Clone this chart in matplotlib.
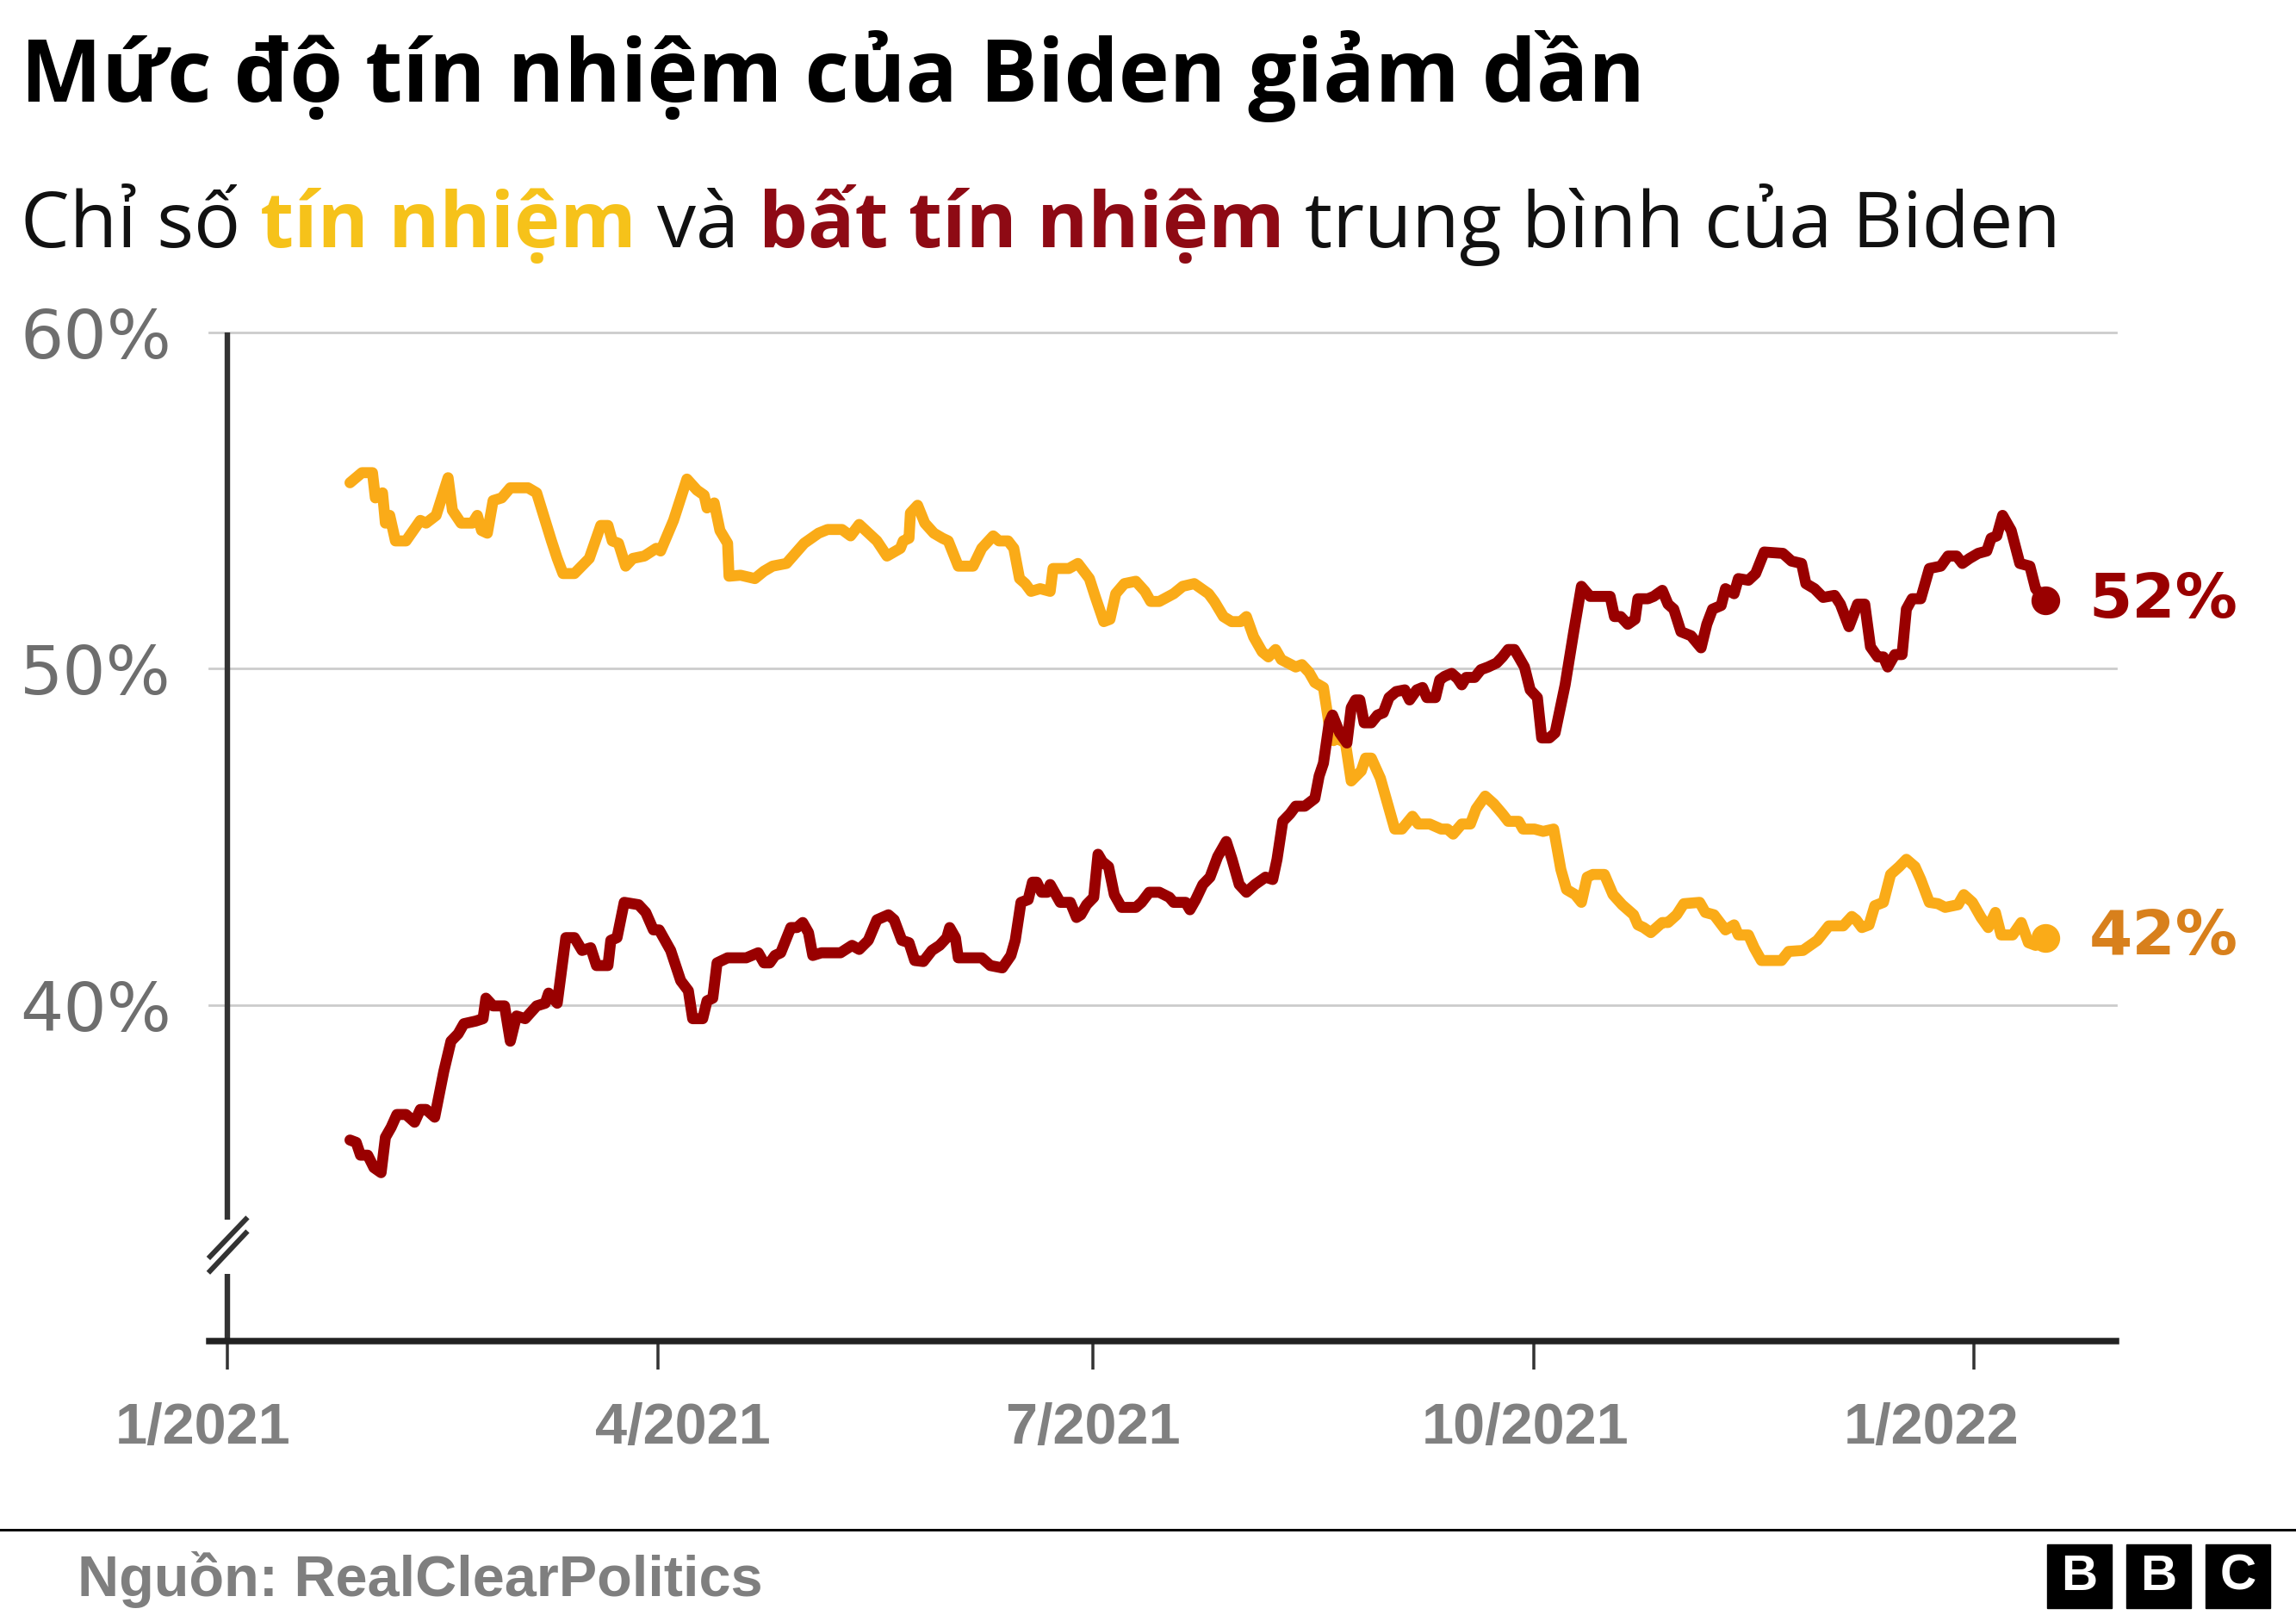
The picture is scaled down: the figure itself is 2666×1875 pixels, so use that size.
'''
Biden approval / disapproval averages (RealClearPolitics), BBC style chart
'''

import pandas as pd
import matplotlib
matplotlib.use('Agg')
import matplotlib.pyplot as plt
from matplotlib import font_manager
from matplotlib.lines import Line2D
from matplotlib.patches import Rectangle


START = pd.Timestamp('2021-01-01')

# days since 1 Jan 2021 and average approval (%)
APPROVE_DAYS = [
    25.7, 28.2, 30.4, 31.0, 32.5, 33.1, 34.0, 35.2, 37.4, 40.4, 41.6, 43.7, 46.2, 47.1, 48.9,
    51.3, 52.3, 53.2, 54.4, 55.6, 57.4, 59.2, 62.9, 64.7, 67.8, 69.0, 70.2, 72.6, 75.7, 78.1,
    79.6, 80.5, 81.8, 83.3, 84.8, 87.2, 89.7, 90.6, 93.3, 96.1, 98.2, 99.7, 100.3, 101.8, 103.0,
    104.6, 104.9, 107.3, 110.3, 112.2, 114.0, 116.9, 120.6, 123.6, 125.5, 128.5, 130.3, 132.1,
    135.8, 137.9, 140.7, 141.3, 142.5, 142.8, 144.3, 145.8, 147.7, 149.5, 150.7, 152.8, 155.9,
    157.7, 160.1, 161.3, 163.2, 164.4, 165.6, 166.8, 168.0, 169.9, 172.0, 172.6, 175.9, 177.8,
    180.2, 181.4, 183.2, 184.5, 185.7, 187.5, 189.9, 191.8, 193.0, 194.8, 197.8, 199.7, 202.1,
    205.1, 206.3, 208.2, 209.9, 211.8, 213.0, 214.5, 216.3, 217.6, 219.1, 220.3, 223.3, 224.6,
    226.1, 227.3, 229.1, 230.3, 231.2, 231.8, 233.7, 234.9, 237.0, 237.9, 239.1, 241.0, 242.2,
    244.0, 245.5, 247.7, 248.9, 251.3, 253.7, 255.0, 256.2, 258.0, 259.8, 261.0, 262.9, 264.7,
    266.5, 267.7, 269.9, 270.8, 273.2, 275.0, 277.2, 278.7, 279.9, 281.7, 283.0, 284.2, 285.4,
    287.8, 289.6, 291.5, 293.9, 294.8, 296.0, 297.5, 299.9, 301.1, 302.9, 304.4, 307.7, 308.9,
    310.7, 313.1, 314.9, 315.8, 317.9, 319.1, 320.6, 324.8, 326.3, 329.3, 332.3, 334.7, 337.7,
    339.5, 340.4, 341.6, 343.1, 344.3, 346.1, 347.6, 349.4, 350.9, 352.7, 353.9, 355.7, 357.5,
    359.0, 361.7, 362.9, 364.7, 366.5, 368.0, 369.5, 370.7, 373.1, 374.9, 376.4, 377.9, 380.0,
]
APPROVE_VALS = [
    55.53, 55.83, 55.83, 55.08, 55.23, 54.33, 54.56, 53.80, 53.80, 54.41, 54.33, 54.56, 55.68, 54.71, 54.33,
    54.33, 54.56, 54.11, 54.03, 55.00, 55.08, 55.38, 55.38, 55.23, 53.80, 53.28, 52.83, 52.83, 53.28, 54.26,
    54.26, 53.80, 53.73, 53.05, 53.28, 53.35, 53.58, 53.50, 54.41, 55.64, 55.31, 55.16, 54.78, 54.93, 54.11,
    53.73, 52.75, 52.78, 52.68, 52.90, 53.05, 53.13, 53.73, 54.03, 54.14, 54.14, 53.95, 54.29,
    53.80, 53.35, 53.58, 53.80, 53.88, 54.63, 54.86, 54.33, 54.03, 53.88, 53.80, 53.05, 53.05,
    53.58, 53.95, 53.80, 53.80, 53.58, 52.68, 52.53, 52.30, 52.38, 52.30, 52.98, 52.98, 53.13,
    52.68, 52.15, 51.40, 51.47, 52.23, 52.53, 52.60, 52.30, 52.00, 52.00, 52.23, 52.45, 52.53,
    52.23, 52.00, 51.55, 51.40, 51.40, 51.55, 50.95, 50.50, 50.35, 50.57, 50.27, 50.05, 50.12,
    49.89, 49.59, 49.44, 48.32, 47.86, 47.94, 47.79, 46.66, 46.96, 47.34, 47.34, 46.74, 46.14,
    45.23, 45.23, 45.61, 45.38, 45.38, 45.23, 45.23, 45.08, 45.38, 45.38, 45.83, 46.21, 45.98,
    45.68, 45.46, 45.46, 45.23, 45.23, 45.16, 45.23, 44.03, 43.43, 43.28, 43.05, 43.80, 43.88,
    43.88, 43.28, 42.98, 42.68, 42.38, 42.30, 42.15, 42.45, 42.45, 42.68, 43.01, 43.05, 42.75,
    42.68, 42.23, 42.38, 42.08, 42.08, 41.70, 41.32, 41.32, 41.59, 41.62, 41.92, 42.35, 42.35,
    42.63, 42.53, 42.30, 42.38, 42.95, 43.05, 43.88, 44.11, 44.33, 44.11, 43.73, 43.05, 43.01,
    42.90, 42.98, 43.28, 43.05, 42.60, 42.30, 42.75, 42.08, 42.08, 42.45, 41.85, 41.77, 42.00,
]

# days since 1 Jan 2021 and average disapproval (%)
DISAPPROVE_DAYS = [
    25.7, 27.0, 27.9, 29.4, 30.7, 32.2, 33.1, 34.3, 35.5, 37.4, 39.2, 40.4, 41.6, 43.4, 45.3,
    46.8, 48.3, 49.5, 52.0, 53.5, 54.1, 55.6, 58.0, 59.2, 60.5, 62.3, 64.7, 66.5, 67.2, 69.0,
    70.8, 72.6, 74.2, 76.0, 77.2, 79.6, 80.2, 81.5, 83.0, 86.0, 87.5, 89.1, 90.3, 92.7, 94.8,
    96.4, 97.3, 99.4, 100.3, 101.5, 102.4, 104.6, 106.7, 108.5, 111.0, 112.2, 113.4, 114.5,
    115.7, 117.8, 119.1, 120.3, 121.5, 122.4, 124.2, 128.2, 130.6, 132.1, 134.0, 135.8, 138.2,
    139.4, 141.0, 142.5, 143.7, 145.5, 147.3, 148.9, 150.4, 151.0, 152.2, 152.8, 157.7, 159.5,
    162.0, 163.8, 164.7, 165.9, 167.4, 168.3, 169.2, 170.2, 171.4, 172.0, 174.1, 176.2, 177.5,
    178.4, 179.6, 181.1, 182.0, 182.9, 184.2, 185.4, 186.9, 189.9, 191.1, 192.7, 194.8, 196.9,
    197.8, 200.3, 201.2, 202.4, 203.9, 205.4, 207.0, 208.8, 210.0, 211.5, 213.0, 214.8, 217.0,
    218.5, 219.4, 220.6, 222.1, 223.3, 225.2, 227.3, 228.2, 229.1, 230.3, 231.0, 232.5, 234.0,
    234.9, 235.8, 236.7, 237.6, 239.1, 240.4, 241.6, 242.8, 244.3, 246.1, 247.1, 248.6, 249.8,
    250.7, 252.5, 253.4, 254.4, 255.9, 257.1, 258.0, 258.9, 260.7, 262.0, 263.5, 265.3, 266.5,
    267.7, 269.0, 269.9, 271.1, 272.3, 273.8, 274.7, 276.3, 277.5, 279.6, 281.4, 283.0, 284.8,
    289.0, 289.9, 291.2, 292.7, 294.2, 294.8, 296.9, 298.1, 299.9, 301.1, 302.3, 303.8, 305.9,
    308.0, 309.2, 310.4, 312.2, 313.1, 314.9, 315.8, 317.9, 319.4, 321.2, 325.1, 326.9, 329.0,
    329.9, 331.7, 333.5, 335.9, 337.1, 338.9, 340.7, 342.2, 343.4, 344.9, 346.1, 347.0, 348.5,
    350.0, 350.9, 352.1, 353.9, 355.7, 358.1, 359.6, 361.4, 362.6, 364.1, 365.9, 367.7, 368.6,
    369.8, 371.0, 372.8, 374.6, 376.7, 377.9, 380.0,
]
DISAPPROVE_VALS = [
    35.98, 35.91, 35.53, 35.53, 35.16, 35.01, 36.06, 36.36, 36.74, 36.74, 36.51, 36.89, 36.89, 36.66, 38.02,
    38.92, 39.14, 39.44, 39.52, 39.59, 40.20, 39.97, 39.97, 38.92, 39.67, 39.59, 39.97, 40.05, 40.35, 40.05,
    42.00, 42.00, 41.62, 41.70, 41.17, 41.17, 41.92, 42.00, 43.05, 42.98, 42.75, 42.23, 42.23, 41.62, 40.72,
    40.42, 39.59, 39.59, 40.12, 40.20, 41.25, 41.40, 41.40, 41.40, 41.55, 41.25, 41.25, 41.47,
    41.55, 42.30, 42.30, 42.45, 42.15, 41.47, 41.55, 41.55, 41.77, 41.65, 41.92, 42.53, 42.68,
    42.53, 41.92, 41.85, 41.32, 41.29, 41.62, 41.77, 42.00, 42.30, 42.00, 41.40, 41.40, 41.17,
    41.10, 41.47, 41.92, 43.05, 43.13, 43.65, 43.65, 43.35, 43.35, 43.58, 43.05, 43.05, 42.60,
    42.68, 42.98, 43.20, 44.48, 44.26, 44.11, 43.28, 42.90, 42.90, 43.05, 43.35, 43.35, 43.20,
    43.05, 43.05, 42.83, 43.13, 43.58, 43.80, 44.41, 44.86, 44.33, 43.58, 43.35, 43.58, 43.80,
    43.73, 44.33, 45.46, 45.68, 45.91, 45.91, 46.14, 46.81, 47.19, 48.39, 48.62, 48.09, 47.79,
    48.84, 49.07, 49.07, 48.39, 48.39, 48.62, 48.69, 49.14, 49.32, 49.37, 49.07, 49.37, 49.44,
    49.14, 49.14, 49.67, 49.77, 49.86, 49.71, 49.52, 49.74, 49.74, 49.97, 50.05, 50.17, 50.35,
    50.57, 50.57, 50.35, 50.05, 49.37, 49.14, 47.94, 47.94, 48.09, 49.52, 51.10, 52.45, 52.15,
    52.15, 51.55, 51.55, 51.32, 51.47, 52.08, 52.08, 52.15, 52.33, 51.92, 51.77, 51.10, 50.98,
    50.62, 51.32, 51.77, 51.88, 52.38, 52.23, 52.68, 52.63, 52.83, 53.47, 53.43, 53.20, 53.13,
    52.53, 52.38, 52.12, 52.18, 51.92, 51.25, 51.92, 51.92, 50.65, 50.35, 50.35, 50.05, 50.42,
    50.42, 51.77, 52.08, 52.08, 52.98, 53.05, 53.35, 53.35, 53.13, 53.28, 53.43, 53.50, 53.88,
    53.95, 54.56, 54.11, 53.13, 53.05, 52.38, 52.03,
]

END_LABELS = ['42%', '52%']
TICK_DATES = ['2021-01-01', '2021-04-01', '2021-07-01', '2021-10-01', '2022-01-01']
TICK_LABELS = ['1/2021', '4/2021', '7/2021', '10/2021', '1/2022']
Y_TICKS = [40, 50, 60]
Y_LABELS = ['40%', '50%', '60%']

TITLE = 'Mức độ tín nhiệm của Biden giảm dần'
SUB_PARTS = ['Chỉ số', 'tín nhiệm', 'và', 'bất tín nhiệm', 'trung bình của Biden']
SOURCE = 'Nguồn: RealClearPolitics'

C_APPROVE = '#FAAB18'
C_DISAPPROVE = '#990000'
SUB_COLORS = ['#111111', '#F6C21A', '#111111', '#8E0A14', '#111111']
SUB_WEIGHTS = ['normal', 'bold', 'normal', 'bold', 'normal']
LABEL_COLORS = ['#D8801C', '#990000']

W, H = 2666, 1875
PT = 0.72  # points per pixel at dpi 100


def has_bold(family):
    for f in font_manager.fontManager.ttflist:
        if f.name != family:
            continue
        w = f.weight
        if isinstance(w, str):
            w = font_manager.weight_dict.get(w, 400)
        if w >= 600:
            return True
    return False


HEAD_FONT = next((f for f in ['Open Sans', 'Noto Sans', 'Roboto', 'Lato', 'Inter'] if has_bold(f)),
                 'DejaVu Sans')
HEAD_FAMILY = [HEAD_FONT, 'DejaVu Sans']


def to_dates(days):
    return START + pd.to_timedelta(pd.Series(days), unit='D')


def layout_parts(fig, renderer, x_px, y_px, size):
    kw = dict(fontsize=size, family=HEAD_FAMILY, va='baseline', ha='left')
    pa = fig.text(0, 0, 'aa', **kw)
    pb = fig.text(0, 0, 'a a', **kw)
    space = pb.get_window_extent(renderer).width - pa.get_window_extent(renderer).width
    pa.remove()
    pb.remove()
    texts = []
    x = x_px
    for part, col, wt in zip(SUB_PARTS, SUB_COLORS, SUB_WEIGHTS):
        t = fig.text(x / W, 1 - y_px / H, part, color=col, fontweight=wt, **kw)
        texts.append(t)
        x += t.get_window_extent(renderer).width + space
    return texts, x - space - x_px


def main():
    fig = plt.figure(figsize=(W / 100, H / 100), dpi=100)
    fig.patch.set_facecolor('white')
    ax = fig.add_axes([243 / W, 1 - 1557 / H, (2457 - 243) / W, (1557 - 386) / H])

    x_app = to_dates(APPROVE_DAYS)
    x_dis = to_dates(DISAPPROVE_DAYS)

    ax.set_xlim(START - pd.Timedelta(days=3.7), START + pd.Timedelta(days=394.7))
    ax.set_ylim(30, 60)

    # gridlines
    for v in Y_TICKS:
        ax.axhline(v, color='#cccccc', lw=2.0, zorder=1, clip_on=False)

    # series
    ax.plot(x_app, APPROVE_VALS, color=C_APPROVE, lw=9.2, zorder=3,
            solid_joinstyle='round', solid_capstyle='round')
    ax.plot(x_dis, DISAPPROVE_VALS, color=C_DISAPPROVE, lw=9.2, zorder=4,
            solid_joinstyle='round', solid_capstyle='round')

    # end markers + labels
    ends = [(x_app.iloc[-1], APPROVE_VALS[-1], C_APPROVE),
            (x_dis.iloc[-1], DISAPPROVE_VALS[-1], C_DISAPPROVE)]
    for (xe, ye, c), lab, lc in zip(ends, END_LABELS, LABEL_COLORS):
        ax.plot([xe], [ye], 'o', color=c, markersize=23, zorder=5)
        ax.annotate(lab, xy=(xe, ye), xytext=(50 * PT, 0), textcoords='offset points',
                    ha='left', va='center', fontsize=52, fontweight='bold',
                    color=lc, family='DejaVu Sans', annotation_clip=False)

    # spines: custom broken y axis, thick x axis
    for s in ['left', 'right', 'top']:
        ax.spines[s].set_visible(False)
    ax.spines['bottom'].set_linewidth(7.5 * PT)
    ax.spines['bottom'].set_color('#222222')
    ax.spines['bottom'].set_zorder(6)

    ax.plot([START, START], [60, 33.61], color='#333333', lw=4.6, clip_on=False,
            solid_capstyle='butt', zorder=6)
    ax.plot([START, START], [32.0, 30], color='#333333', lw=4.6, clip_on=False,
            solid_capstyle='butt', zorder=6)
    for y0, y1 in [(32.46, 33.68), (32.03, 33.27)]:
        ax.plot([START - pd.Timedelta(days=3.9), START + pd.Timedelta(days=4.3)],
                [y0, y1], color='#333333', lw=4.3, clip_on=False,
                solid_capstyle='butt', zorder=6)

    # y tick labels
    ax.set_yticks(Y_TICKS)
    ax.set_yticklabels(Y_LABELS)
    ax.tick_params(axis='y', length=0, pad=44 * PT, labelsize=57, labelcolor='#6e6e6e')
    for t in ax.get_yticklabels():
        t.set_family('DejaVu Sans')

    # x ticks and labels
    tick_x = pd.to_datetime(TICK_DATES)
    ax.set_xticks(tick_x)
    ax.set_xticklabels([''] * len(TICK_LABELS))
    ax.tick_params(axis='x', direction='out', length=33 * PT, width=3.5 * PT,
                   color='#333333')
    label_shift = [-28, 29, 0, -10, -49]
    for xt, lab, dx in zip(tick_x, TICK_LABELS, label_shift):
        ax.annotate(lab, xy=(xt, 0), xycoords=('data', 'axes fraction'),
                    xytext=(dx * PT, -102 * PT), textcoords='offset points',
                    ha='center', va='center', fontsize=48, fontweight='bold',
                    color='#808080', family='Liberation Sans', annotation_clip=False)

    renderer = fig.canvas.get_renderer()

    # title, sized to the reference width
    title = fig.text(24 / W, 1 - 118 / H, TITLE, fontsize=76, fontweight='bold',
                     family=HEAD_FAMILY, color='#000000', va='baseline', ha='left')
    tw = title.get_window_extent(renderer).width
    title.set_fontsize(76 * 1884 / tw)

    # subtitle in coloured pieces, sized to the reference width
    texts, sw = layout_parts(fig, renderer, 24, 287, 68)
    for t in texts:
        t.remove()
    layout_parts(fig, renderer, 24, 287, 68 * 2373 / sw)

    # footer
    fig.add_artist(Line2D([0, 1], [1 - 1776 / H, 1 - 1776 / H], transform=fig.transFigure,
                          color='#000000', lw=3 * PT))
    fig.text(90 / W, 1 - 1853 / H, SOURCE, fontsize=48, fontweight='bold',
             family='Liberation Sans', color='#7f7f7f', va='baseline', ha='left')

    for i, letter in enumerate('BBC'):
        x0 = 2377 + i * 92
        fig.add_artist(Rectangle((x0 / W, 1 - 1867 / H), 75 / W, 74 / H,
                                 transform=fig.transFigure, color='#000000'))
        fig.text((x0 + 37.5) / W, 1 - 1831 / H, letter, fontsize=42, fontweight='bold',
                 family='Liberation Sans', color='white', ha='center', va='center')

    fig.savefig('out.png', dpi=100, facecolor='white')


if __name__ == '__main__':
    main()
